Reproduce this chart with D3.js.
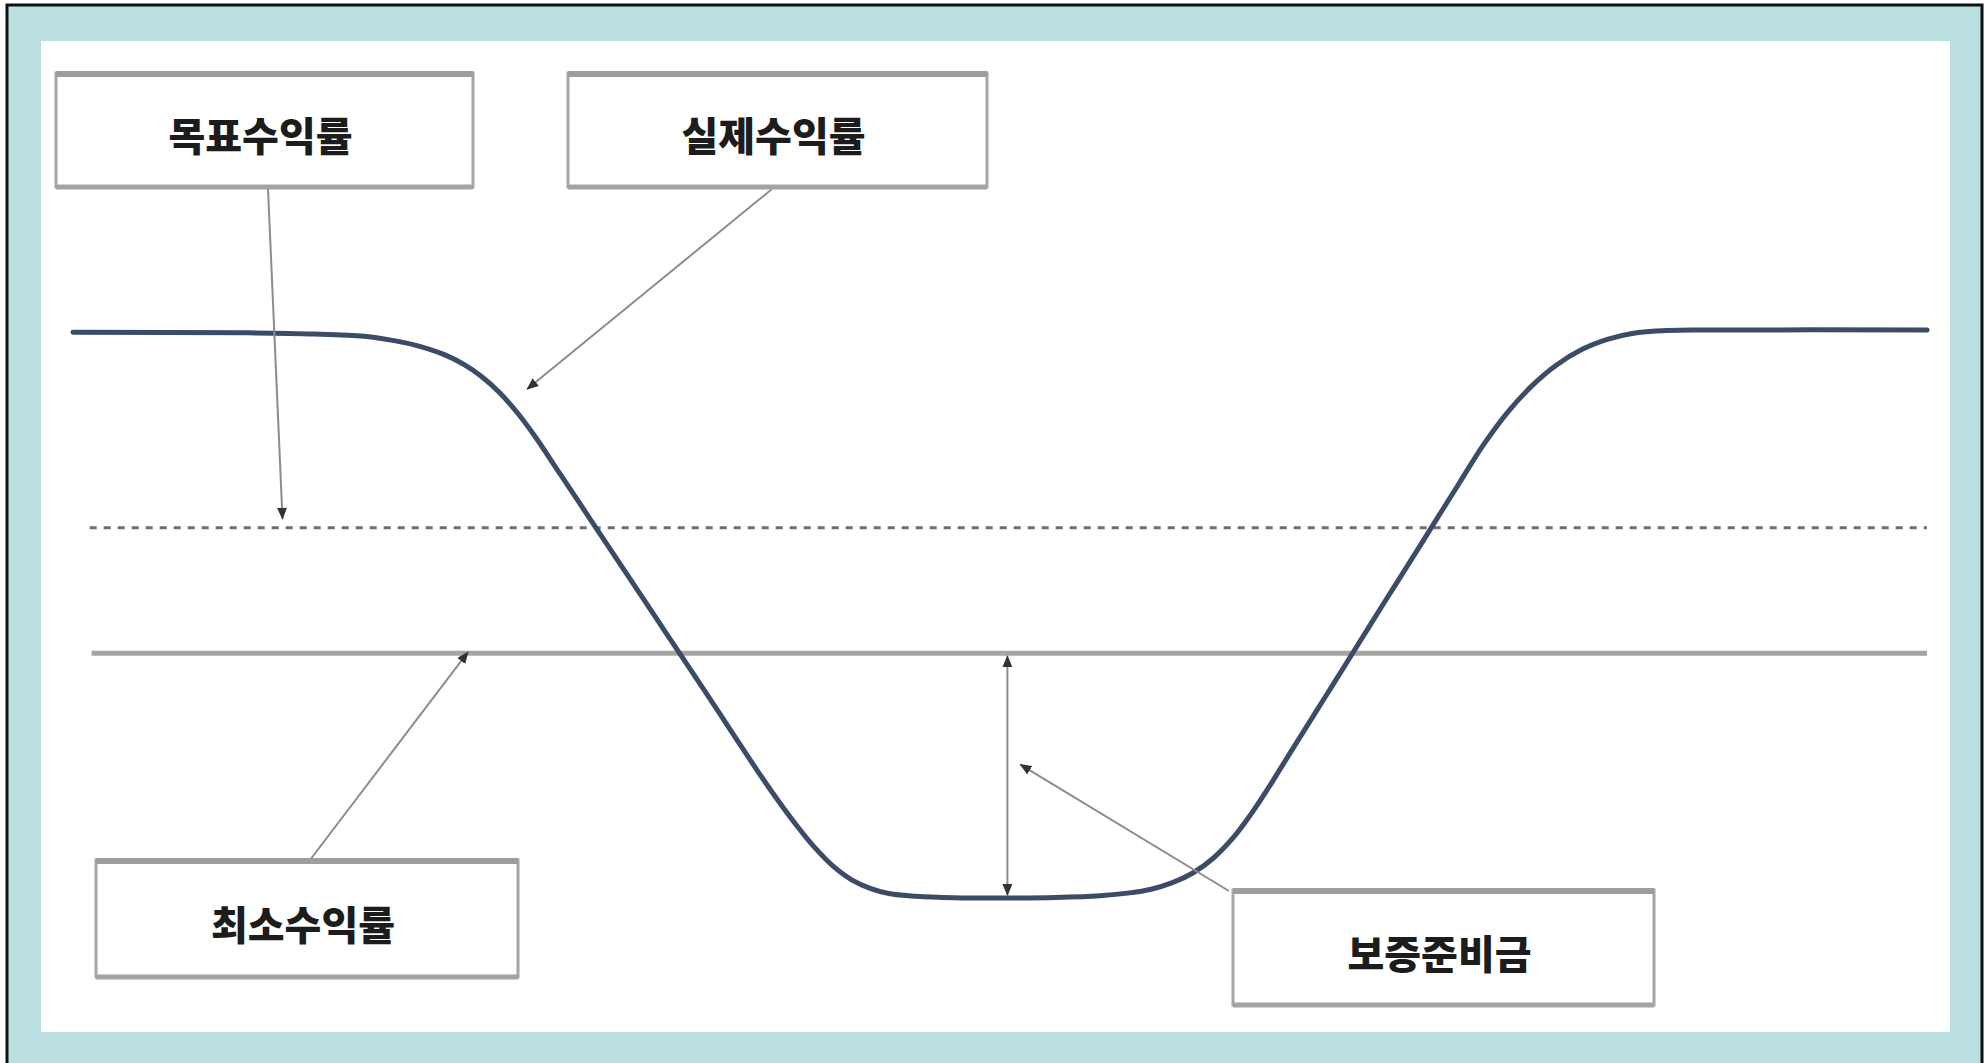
<!DOCTYPE html>
<html>
<head>
<meta charset="utf-8">
<title>수익률과 보증준비금</title>
<script src="https://d3js.org/d3.v7.min.js"></script>
<style type="text/css">
body { margin: 0; background: #fff; }
.label { font-family: "Noto Sans CJK KR", sans-serif; font-weight: 900; font-size: 40px; fill: #1c1c1c; }
</style>
</head>
<body>
<div id="my_dataviz"></div>
<script>
// curve of the actual return (x: time 0-100, y: return level 0-100)
var actualX = [0, 9.5, 13.0, 15.7, 17.0, 18.5, 20.0, 21.1, 22.0, 23.0, 24.0, 25.0, 26.0, 28.1, 30.0, 32.0, 34.0, 35.5, 37.0, 38.0, 39.0, 40.0, 41.0, 42.0, 43.0, 44.0, 45.5, 47.5, 50.4, 53.0, 55.4, 57.0, 58.1, 59.3, 60.4, 61.5, 62.6, 63.5, 64.4, 65.3, 66.2, 67.6, 69.0, 70.7, 72.0, 73.4, 74.8, 76.1, 77.4, 78.7, 80.0, 81.4, 82.8, 84.1, 86.0, 88.0, 100];
var actualY = [99.6, 99.5, 99.3, 98.9, 98.3, 97.3, 95.7, 93.9, 91.9, 89.0, 85.3, 80.9, 76.0, 65.7, 56.4, 46.6, 36.8, 29.4, 22.0, 17.3, 12.9, 8.9, 5.6, 3.2, 1.7, 0.8, 0.3, 0.05, 0, 0.1, 0.4, 0.9, 1.5, 2.7, 4.4, 7.0, 10.7, 14.6, 19.0, 23.7, 28.4, 35.7, 43.0, 51.9, 58.6, 65.9, 73.2, 79.9, 85.6, 90.2, 93.8, 96.6, 98.4, 99.4, 99.9, 100, 100];

// reference levels
var targetReturn = 65.2;   // 목표수익률
var minReturn = 43.1;      // 최소수익률
var levelStart = 0.9;
var reservePointX = 50.4;  // where the reserve gap is measured

var labels = ["목표수익률", "실제수익률", "최소수익률", "보증준비금"];

var width = 1985, height = 1063;

var svg = d3.select("#my_dataviz")
  .append("svg")
    .attr("width", width)
    .attr("height", height);

// frame
svg.append("rect").attr("x", 7).attr("y", 5).attr("width", 1975).attr("height", 1070)
  .attr("fill", "#b9dfe0").attr("stroke", "#111").attr("stroke-width", 3);
svg.append("rect").attr("x", 41).attr("y", 41).attr("width", 1909).attr("height", 991)
  .attr("fill", "#fff");

var x = d3.scaleLinear().domain([0, 100]).range([73, 1927]);
var y = d3.scaleLinear().domain([0, 100]).range([898, 330]);

var defs = svg.append("defs");
defs.append("marker")
    .attr("id", "head")
    .attr("viewBox", "0 0 12 10")
    .attr("refX", 11).attr("refY", 5)
    .attr("markerWidth", 12).attr("markerHeight", 10)
    .attr("markerUnits", "userSpaceOnUse")
    .attr("orient", "auto-start-reverse")
  .append("path")
    .attr("d", "M0,0 L12,5 L0,10 Z")
    .attr("fill", "#333");

// target return (dashed)
svg.append("line")
  .attr("x1", x(levelStart)).attr("x2", x(100))
  .attr("y1", y(targetReturn)).attr("y2", y(targetReturn))
  .attr("stroke", "#6f6f6f").attr("stroke-width", 3)
  .attr("stroke-dasharray", "7,7");

// minimum return (solid)
svg.append("line")
  .attr("x1", x(levelStart + 0.1)).attr("x2", x(100))
  .attr("y1", y(minReturn)).attr("y2", y(minReturn))
  .attr("stroke", "#a4a4a4").attr("stroke-width", 5);

// actual return curve
var pts = actualX.map(function(d, i) { return [d, actualY[i]]; });
var line = d3.line()
  .x(function(d) { return x(d[0]); })
  .y(function(d) { return y(d[1]); })
  .curve(d3.curveCatmullRom.alpha(0.5));

svg.append("path")
  .datum(pts)
  .attr("d", line)
  .attr("fill", "none")
  .attr("stroke", "#3c4b67")
  .attr("stroke-width", 5)
  .attr("stroke-linecap", "round");

// reserve gap (double arrow)
svg.append("line")
  .attr("x1", x(reservePointX)).attr("x2", x(reservePointX))
  .attr("y1", y(minReturn) + 3).attr("y2", y(0) - 3)
  .attr("stroke", "#8c8c8c").attr("stroke-width", 2)
  .attr("marker-start", "url(#head)")
  .attr("marker-end", "url(#head)");

// label boxes
var boxes = [
  {x: 56, y: 73, w: 417, h: 114},
  {x: 568, y: 73, w: 419, h: 114},
  {x: 96, y: 860, w: 422, h: 117},
  {x: 1233, y: 890, w: 421, h: 115}
];

// leader arrows: start at box, tip on the chart
var leaders = [
  {sx: 268, sy: 189, tx: x(11.3), ty: y(targetReturn) - 9},
  {sx: 772, sy: 189, tx: x(24.5), ty: y(89.6)},
  {sx: 310, sy: 860, tx: x(21.3), ty: y(minReturn) - 1},
  {sx: 1229, sy: 891, tx: x(51.1), ty: y(23.5)}
];

svg.selectAll(".leader")
  .data(leaders)
  .enter()
  .append("line")
    .attr("class", "leader")
    .attr("x1", function(d) { return d.sx; })
    .attr("y1", function(d) { return d.sy; })
    .attr("x2", function(d) { return d.tx; })
    .attr("y2", function(d) { return d.ty; })
    .attr("stroke", "#8c8c8c")
    .attr("stroke-width", 2)
    .attr("marker-end", "url(#head)");

var g = svg.selectAll(".box")
  .data(boxes)
  .enter()
  .append("g")
    .attr("class", "box");

g.append("rect")
  .attr("x", function(d) { return d.x; })
  .attr("y", function(d) { return d.y; })
  .attr("width", function(d) { return d.w; })
  .attr("height", function(d) { return d.h; })
  .attr("fill", "#fff")
  .attr("stroke", "#a6a6a6")
  .attr("stroke-width", 3);

g.append("line")
  .attr("x1", function(d) { return d.x; })
  .attr("x2", function(d) { return d.x + d.w; })
  .attr("y1", function(d) { return d.y + 1; })
  .attr("y2", function(d) { return d.y + 1; })
  .attr("stroke", "#9d9d9d").attr("stroke-width", 6);

g.append("line")
  .attr("x1", function(d) { return d.x; })
  .attr("x2", function(d) { return d.x + d.w; })
  .attr("y1", function(d) { return d.y + d.h; })
  .attr("y2", function(d) { return d.y + d.h; })
  .attr("stroke", "#a3a3a3").attr("stroke-width", 5);

g.append("text")
  .attr("class", "label")
  .attr("x", function(d) { return d.x + d.w / 2 - 4; })
  .attr("y", function(d) { return d.y + d.h / 2 + 4; })
  .attr("text-anchor", "middle")
  .attr("dominant-baseline", "central")
  .text(function(d, i) { return labels[i]; });
</script>
</body>
</html>
